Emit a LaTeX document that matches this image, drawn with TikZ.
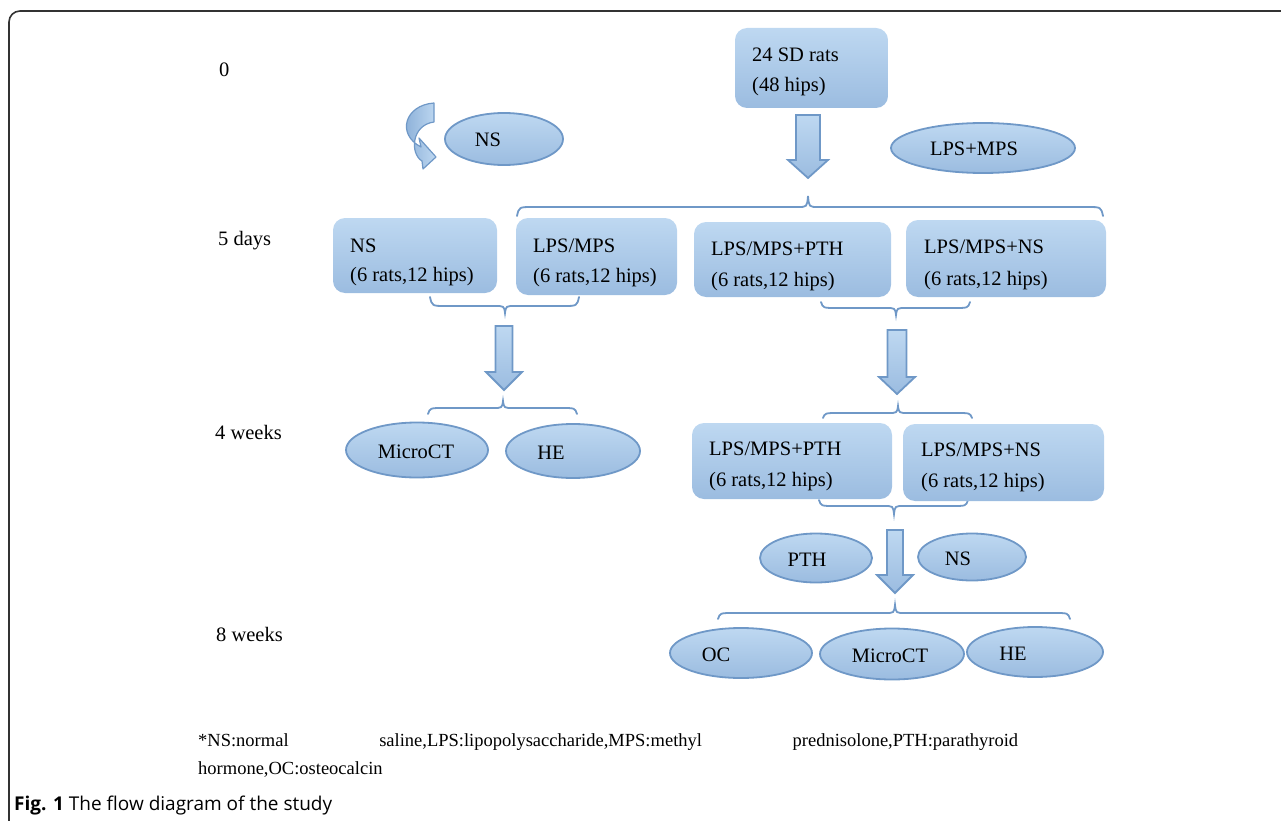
\documentclass[tikz,border=0pt]{standalone}
\usepackage{fontspec}
\setmainfont{Liberation Serif}
\newfontfamily\capfont{Open Sans}
\usetikzlibrary{shapes.geometric}
\definecolor{boxtop}{HTML}{BED8F1}
\definecolor{boxbot}{HTML}{9BBCE0}
\definecolor{edgeblue}{HTML}{6F98C7}
\definecolor{ribbondark}{HTML}{7FA6D2}
\definecolor{framegray}{HTML}{333333}
\newcommand\dfont{\fontsize{20.5}{24}\selectfont}
\newcommand\fnfont{\fontsize{18.5}{22}\selectfont}
% block arrow: cx, ytop, yhead, ytip, shaft half width, head half width
\newcommand\blockarrow[6]{%
  \path[barrow] (#1-#5,#2) -- (#1+#5,#2) -- (#1+#5,#3) -- (#1+#6,#3) -- (#1,#4)
     -- (#1-#6,#3) -- (#1-#5,#3) -- cycle;}
% curly brace: xL, xR, xC, yEnd, yFlat, yTip
\newcommand\curlybrace[6]{%
  \draw[bracestyle] (#1,#4) .. controls (#1+2,#5) .. (#1+16,#5) -- (#3-10,#5)
     .. controls (#3-1,#5) .. (#3,#6) .. controls (#3+1,#5) .. (#3+10,#5)
     -- (#2-16,#5) .. controls (#2-2,#5) .. (#2,#4);}
\tikzset{
  rbox/.style={rounded corners=12pt, top color=boxtop, bottom color=boxbot, draw=none, inner sep=0pt},
  oval/.style={ellipse, top color=boxtop, bottom color=boxbot, draw=edgeblue, line width=1.8pt, inner sep=0pt},
  lbl/.style={anchor=base west, font=\dfont, inner sep=0pt},
  ctxt/.style={anchor=base, font=\dfont, inner sep=0pt},
  bracestyle/.style={draw=edgeblue, line width=1.8pt, line cap=round},
  barrow/.style={top color=boxtop, bottom color=boxbot, draw=edgeblue, line width=1.8pt, line join=miter},
}
\begin{document}
\begin{tikzpicture}[x=1pt,y=-1pt]
\useasboundingbox (0,0) rectangle (1281,821);
% frame
\draw[framegray, line width=1.6pt] (9,821) -- (9,22) arc[start angle=180, end angle=90, radius=11pt] -- (1281,11);

% time labels
\node[lbl] (t0) at (219,77) {0};
\node[lbl] (t5) at (218,245) {5 days};
\node[lbl] (t4) at (215,439) {4 weeks};
\node[lbl] (t8) at (216,641) {8 weeks};

% braces (behind boxes)
\curlybrace{517}{1103}{808}{216}{207}{196}
\curlybrace{430}{579}{505}{297}{306}{313}
\curlybrace{428}{577}{503}{414}{408}{401}
\curlybrace{821}{970}{896}{302}{308}{315}
\curlybrace{823}{972}{898}{418}{413}{406}
\curlybrace{819}{968}{894}{500}{506}{514}
\curlybrace{718}{1070}{895}{619}{613}{605}

% rounded boxes
\node[rbox, minimum width=153pt, minimum height=80pt] (start) at (811.5,68) {};
\node[lbl] (startA) at (752,62) {24 SD rats};
\node[lbl] (startB) at (752,92) {(48 hips)};

\node[rbox, minimum width=164pt, minimum height=75pt] (nsbox) at (415,255.5) {};
\node[lbl] (nsboxA) at (350,252) {NS};
\node[lbl] (nsboxB) at (350,281) {(6 rats,12 hips)};

\node[rbox, minimum width=161pt, minimum height=77pt] (lmbox) at (596.5,256.5) {};
\node[lbl] (lmboxA) at (533,252) {LPS/MPS};
\node[lbl] (lmboxB) at (533,282) {(6 rats,12 hips)};

\node[rbox, minimum width=197pt, minimum height=75pt] (pthA) at (792.5,259.5) {};
\node[lbl] (pthAa) at (711,255) {LPS/MPS+PTH};
\node[lbl] (pthAb) at (711,286) {(6 rats,12 hips)};

\node[rbox, minimum width=200pt, minimum height=77pt] (nsA) at (1006,258.5) {};
\node[lbl] (nsAa) at (924,253) {LPS/MPS+NS};
\node[lbl] (nsAb) at (924,285) {(6 rats,12 hips)};

\node[rbox, minimum width=200pt, minimum height=76pt] (pthB) at (792,461) {};
\node[lbl] (pthBa) at (709,455) {LPS/MPS+PTH};
\node[lbl] (pthBb) at (709,486) {(6 rats,12 hips)};

\node[rbox, minimum width=201pt, minimum height=77pt] (nsB) at (1003.5,462.5) {};
\node[lbl] (nsBa) at (921,456) {LPS/MPS+NS};
\node[lbl] (nsBb) at (921,487) {(6 rats,12 hips)};

% block arrows
\blockarrow{808}{115}{160}{178}{12}{20}
\blockarrow{504}{326}{372}{390}{8.5}{18}
\blockarrow{897}{330}{377}{394}{9.5}{18}
\blockarrow{895}{530}{575}{593}{8}{18}

% curved arrow
\path[draw=edgeblue, line width=1.2pt, line join=round, left color=ribbondark, right color=boxtop]
  (434,103) .. controls (405,105) and (396,134) .. (421,147)
  -- (419,138) -- (436,157) -- (423,169) -- (422,161)
  .. controls (410,154) and (411,125) .. (434,122) -- cycle;

% ellipses
\node[oval, minimum width=118pt, minimum height=52pt] (ns1) at (504,139) {};
\node[ctxt] (ns1t) at (488,147) {NS};
\node[oval, minimum width=184pt, minimum height=50pt] (lpsmps) at (983,148) {};
\node[ctxt] (lpsmpst) at (974,156) {LPS+MPS};
\node[oval, minimum width=142pt, minimum height=55pt] (mct1) at (417,450) {};
\node[ctxt] (mct1t) at (416,458) {MicroCT};
\node[oval, minimum width=134pt, minimum height=54pt] (he1) at (573,451) {};
\node[ctxt] (he1t) at (551,459) {HE};
\node[oval, minimum width=112pt, minimum height=49pt] (pth) at (816,558) {};
\node[ctxt] (ptht) at (807,566) {PTH};
\node[oval, minimum width=108pt, minimum height=47pt] (ns2) at (972,557) {};
\node[ctxt] (ns2t) at (958,565) {NS};
\node[oval, minimum width=142pt, minimum height=50pt] (oc) at (741,653) {};
\node[ctxt] (oct) at (716,661) {OC};
\node[oval, minimum width=144pt, minimum height=51pt] (mct2) at (892,654) {};
\node[ctxt] (mct2t) at (890,662) {MicroCT};
\node[oval, minimum width=136pt, minimum height=50pt] (he2) at (1035,652) {};
\node[ctxt] (he2t) at (1013,660) {HE};

% footnote
\node[anchor=base west, inner sep=0pt, font=\fnfont] (fn1) at (198,746)
  {\makebox[820pt][l]{*NS:normal\hfill saline,LPS:lipopolysaccharide,MPS:methyl\hfill prednisolone,PTH:parathyroid}};
\node[anchor=base west, inner sep=0pt, font=\fnfont] (fn2) at (198,774) {hormone,OC:osteocalcin};

% caption
\node[anchor=base west, inner sep=0pt] (cap) at (14,810)
  {\capfont\fontsize{19}{22}\selectfont\textbf{Fig. 1} The flow diagram of the study};
\end{tikzpicture}
\end{document}
